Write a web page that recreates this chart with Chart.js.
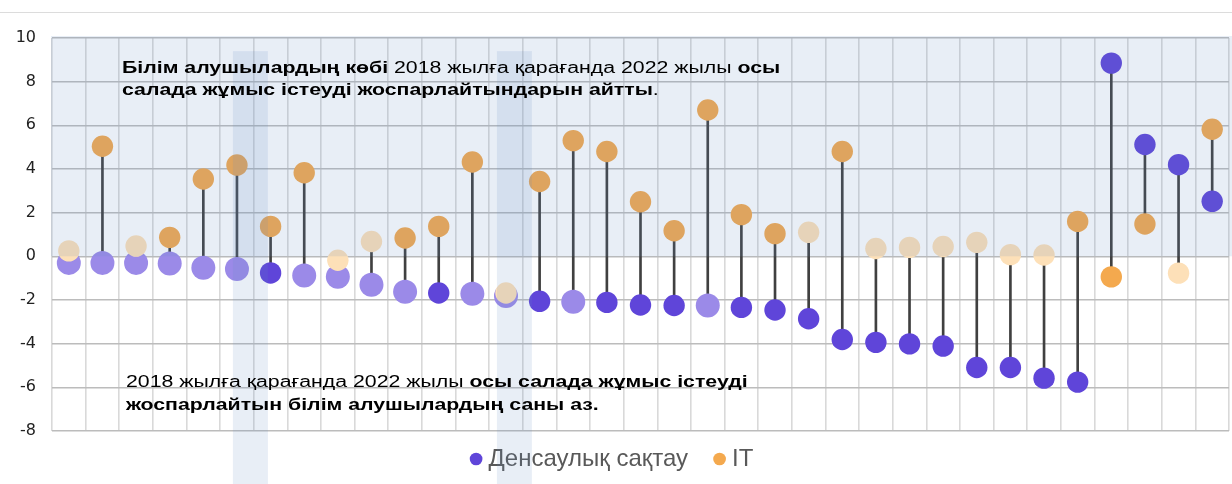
<!DOCTYPE html>
<html>
<head>
<meta charset="utf-8">
<script src="https://cdn.jsdelivr.net/npm/chart.js@4.4.1/dist/chart.umd.min.js"></script>
<style>
  html, body { margin: 0; padding: 0; background: #fff; }
  #wrap { width: 1232px; height: 484px; }
</style>
</head>
<body>
<div id="wrap"><canvas id="chart" width="1232" height="484"></canvas></div>
<script>
// 35 categories (no visible labels in the original)
const categories = Array.from({ length: 35 }, (_, i) => String(i + 1));

const healthValues = [-0.3, -0.3, -0.3, -0.33, -0.52, -0.58, -0.76, -0.88, -0.94, -1.3,
  -1.62, -1.68, -1.71, -1.82, -2.06, -2.08, -2.11, -2.23, -2.25, -2.25,
  -2.34, -2.46, -2.86, -3.81, -3.94, -4.01, -4.11, -5.09, -5.09, -5.58,
  -5.76, 8.85, 5.12, 4.2, 2.52];
const itValues = [0.25, 5.04, 0.47, 0.87, 3.54, 4.18, 1.37, 3.83, -0.18, 0.68,
  0.84, 1.37, 4.32, -1.68, 3.43, 5.3, 4.8, 2.5, 1.17, 6.7,
  1.91, 1.04, 1.1, 4.8, 0.36, 0.41, 0.45, 0.64, 0.08, 0.06,
  1.6, -0.94, 1.48, -0.77, 5.82];

// 1 = faded (weaker) point
const healthFaded = [1, 1, 1, 1, 1, 1, 0, 1, 1, 1, 1, 0, 1, 1, 0, 1, 0, 0, 0, 1,
  0, 0, 0, 0, 0, 0, 0, 0, 0, 0, 0, 0, 0, 0, 0];
const itFaded = [1, 0, 1, 0, 0, 0, 0, 0, 1, 1, 0, 0, 0, 1, 0, 0, 0, 0, 0, 0,
  0, 0, 1, 0, 1, 1, 1, 1, 1, 1, 0, 0, 0, 1, 0];

const seriesNames = ['Денсаулық сақтау', 'IT'];
const yMin = -8, yMax = 10, yStep = 2;

const purple = '#5f45d9', purpleLight = '#9b8ae8';
const orange = '#f4a94e', orangeLight = '#fde0b8';
const shade = 'rgba(101,141,195,0.15)';

// highlighted columns (category index ranges)
const bands = [[4.88, 5.92], [12.73, 13.77]];

const topNote = [
  [['Білім алушылардың көбі', true], [' 2018 жылға қарағанда 2022 жылы ', false], ['осы', true]],
  [['салада жұмыс істеуді жоспарлайтындарын айтты', true], ['.', false]]
];
const bottomNote = [
  [['2018 жылға қарағанда 2022 жылы ', false], ['осы салада жұмыс істеуді', true]],
  [['жоспарлайтын білім алушылардың саны аз.', true]]
];

const FONT = "'Liberation Sans', Arial, sans-serif";
Chart.defaults.font.family = FONT;

// the original's text is set noticeably wider than plain Arial
const TEXT_STRETCH = 1.33;
// legend sits closer to the plot than its item spacing would allow
const LEGEND_LIFT = -15;

function drawRich(ctx, lines, x, baselines) {
  lines.forEach((segs, li) => {
    ctx.save();
    ctx.translate(x, baselines[li]);
    ctx.scale(TEXT_STRETCH, 1);
    let cx = 0;
    segs.forEach(([txt, bold]) => {
      ctx.font = (bold ? 'bold ' : '') + '16px ' + FONT;
      ctx.fillText(txt, cx, 0);
      cx += ctx.measureText(txt).width;
    });
    ctx.restore();
  });
}

const decor = {
  id: 'decor',
  afterInit(chart) {
    const lg = chart.legend;
    if (!lg) return;
    const draw = lg.draw.bind(lg);
    lg.draw = (area) => {
      chart.ctx.save();
      chart.ctx.translate(0, LEGEND_LIFT);
      draw(area);
      chart.ctx.restore();
    };
  },
  beforeDraw(chart) {
    const ctx = chart.ctx;
    ctx.save();
    ctx.strokeStyle = '#dcdcdc';
    ctx.lineWidth = 1;
    ctx.beginPath();
    ctx.moveTo(0, 12.5);
    ctx.lineTo(chart.width, 12.5);
    ctx.stroke();
    ctx.restore();
  },
  afterDatasetsDraw(chart) {
    const { ctx, chartArea, scales: { x, y } } = chart;
    ctx.save();
    ctx.fillStyle = shade;
    const y0 = y.getPixelForValue(0);
    ctx.fillRect(chartArea.left - 1, chartArea.top - 2, chart.width - chartArea.left + 1, y0 - chartArea.top + 2);
    const bandTop = y.getPixelForValue(9.4);
    bands.forEach(([a, b]) => {
      const l = x.getPixelForValue(a), r = x.getPixelForValue(b);
      ctx.fillRect(l, bandTop, r - l, chart.height - bandTop);
    });
    ctx.restore();
  },
  afterDraw(chart) {
    const { ctx, chartArea, scales: { y } } = chart;
    ctx.save();
    ctx.fillStyle = '#000';
    ctx.textBaseline = 'alphabetic';
    drawRich(ctx, topNote, chartArea.left + 70, [y.getPixelForValue(8.4), y.getPixelForValue(7.38)]);
    drawRich(ctx, bottomNote, chartArea.left + 74, [y.getPixelForValue(-6.0), y.getPixelForValue(-7.02)]);
    ctx.restore();
  }
};

new Chart(document.getElementById('chart'), {
  data: {
    labels: categories,
    datasets: [
      {
        type: 'line',
        label: seriesNames[0],
        data: healthValues,
        showLine: false,
        pointRadius: healthFaded.map(f => f ? 12 : 10.7),
        pointHoverRadius: healthFaded.map(f => f ? 12 : 10.7),
        pointBackgroundColor: healthFaded.map(f => f ? purpleLight : purple),
        pointBorderWidth: 0,
        order: 1
      },
      {
        type: 'line',
        label: seriesNames[1],
        data: itValues,
        showLine: false,
        pointRadius: 10.7,
        pointHoverRadius: 10.7,
        pointBackgroundColor: itFaded.map(f => f ? orangeLight : orange),
        pointBorderWidth: 0,
        order: 0
      },
      {
        type: 'bar',
        label: 'stem',
        data: healthValues.map((h, i) => [h, itValues[i]]),
        backgroundColor: '#404040',
        barThickness: 2,
        order: 2
      }
    ]
  },
  options: {
    responsive: false,
    animation: false,
    layout: { autoPadding: false, padding: { top: 38, right: 3, left: 0, bottom: -12 } },
    scales: {
      x: {
        offset: true,
        grid: { offset: true, color: '#d9d9d9', lineWidth: 1.6, drawTicks: false },
        border: { display: false },
        ticks: { display: false },
        afterFit: (s) => { s.height = 0; }
      },
      y: {
        min: yMin,
        max: yMax,
        ticks: { stepSize: yStep, color: '#222', font: { family: "'DejaVu Sans'", size: 16 }, padding: 16 },
        grid: { color: '#bcbcbc', lineWidth: 1.6, drawTicks: false },
        border: { display: false },
        afterFit: (s) => { s.width = 52; }
      }
    },
    plugins: {
      tooltip: { enabled: false },
      legend: {
        position: 'bottom',
        labels: {
          usePointStyle: true,
          pointStyle: 'circle',
          boxWidth: 1,
          boxHeight: 9,
          padding: 31,
          color: '#595959',
          font: { size: 24 },
          generateLabels: (chart) => {
            const colors = [purple, orange];
            return Chart.defaults.plugins.legend.labels.generateLabels(chart)
              .filter(l => l.datasetIndex < 2)
              .sort((a, b) => a.datasetIndex - b.datasetIndex)
              .map(l => ({ ...l, fillStyle: colors[l.datasetIndex], strokeStyle: colors[l.datasetIndex], lineWidth: 0, pointStyle: 'circle' }));
          }
        }
      }
    }
  },
  plugins: [decor]
});
</script>
</body>
</html>
